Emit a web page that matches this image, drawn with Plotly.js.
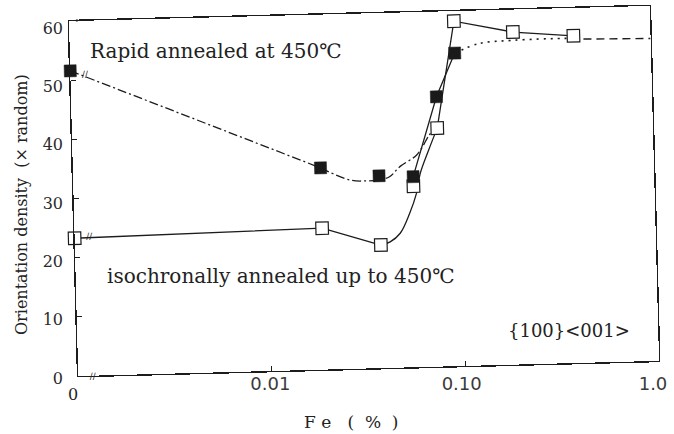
<!DOCTYPE html>
<html>
<head>
<meta charset="utf-8">
<script src="https://cdn.plot.ly/plotly-3.0.1.min.js"></script>
<style>
  html, body { margin: 0; padding: 0; background: #ffffff; }
  #wrap { position: relative; width: 674px; height: 434px; overflow: hidden; }
  #plotA { position: absolute; left: 0; top: 0; width: 674px; height: 434px;
           transform-origin: 364px 191px; transform: rotate(-1.5deg); }
  #plotB { position: absolute; left: 0; top: 0; width: 674px; height: 434px; }
</style>
</head>
<body>
<div id="wrap">
  <div id="plotA"></div>
  <div id="plotB"></div>
</div>
<script>
// ---------------- data ----------------
// isochronally annealed up to 450 C (open squares)
const feIso = [0, 0.019, 0.038, 0.057, 0.077, 0.097, 0.195, 0.40];
const densIso = [23.3, 23.9, 20.8, 30.6, 40.3, 58.3, 56.2, 55.3];
// rapid annealed at 450 C (filled squares)
const feRapid = [0, 0.019, 0.038, 0.057, 0.077, 0.097];
const densRapid = [51.6, 34.1, 32.5, 32.2, 45.6, 52.9];
// drawn guide curves
const isoCurveFe = [0.038, 0.0425, 0.048, 0.054, 0.059, 0.062, 0.069, 0.077];
const isoCurveDens = [20.8, 21.3, 22.7, 26.0, 29.4, 32.7, 36.6, 40.3];
const rapidCurveFe = [0, 0.019, 0.027, 0.033, 0.038, 0.043, 0.049, 0.06, 0.069, 0.073];
const rapidCurveDens = [51.6, 34.1, 31.9, 31.7, 31.8, 32.3, 34.0, 35.9, 38.9, 40.0];
const rapidDottedFe = [0.097, 0.13, 0.195, 0.35, 0.42];
const rapidDottedDens = [52.9, 54.4, 54.8, 54.9, 54.8];
const rapidDashedFe = [0.45, 1.0];
const rapidDashedDens = [54.7, 54.5];
// axis labels
const xTickVals = [0.01, 0.1, 1.0];
const xTickText = ['0.01', '0.10', '1.0'];
const yTickVals = [0, 10, 20, 30, 40, 50, 60];

// The broken axis: Fe = 0 is drawn at this position of the log axis
const ZERO_POS = 0.001;
const xp = arr => arr.map(v => (v === 0 ? ZERO_POS : v));

const INK = '#1c1c1c';
const W = 674, H = 434;

// ---------------- plot A : frame + data (slightly tilted, as in the scan) ----------------
const lw = 1.3;
const tracesA = [
  { x: xp(rapidCurveFe.slice(0, 2)), y: rapidCurveDens.slice(0, 2), mode: 'lines',
    line: { color: INK, width: lw, dash: '9px,3px,2px,3px' }, hoverinfo: 'skip' },
  { x: xp(rapidCurveFe.slice(1)), y: rapidCurveDens.slice(1), mode: 'lines',
    line: { color: INK, width: lw, dash: '9px,3px,2px,3px', shape: 'spline', smoothing: 1 }, hoverinfo: 'skip' },
  { x: xp(feRapid.slice(3, 6)), y: densRapid.slice(3, 6), mode: 'lines',
    line: { color: INK, width: lw }, hoverinfo: 'skip' },
  { x: xp(rapidDottedFe), y: rapidDottedDens, mode: 'lines',
    line: { color: INK, width: 1.6, dash: '2px,5px', shape: 'spline', smoothing: 1 }, hoverinfo: 'skip' },
  { x: xp(rapidDashedFe), y: rapidDashedDens, mode: 'lines',
    line: { color: INK, width: 1.4, dash: '8px,5px' }, hoverinfo: 'skip' },
  { x: xp(feIso.slice(0, 3)), y: densIso.slice(0, 3), mode: 'lines',
    line: { color: INK, width: lw }, hoverinfo: 'skip' },
  { x: xp(isoCurveFe), y: isoCurveDens, mode: 'lines',
    line: { color: INK, width: lw, shape: 'spline', smoothing: 1 }, hoverinfo: 'skip' },
  { x: xp(feIso.slice(4)), y: densIso.slice(4), mode: 'lines',
    line: { color: INK, width: lw }, hoverinfo: 'skip' },
  { x: xp(feIso), y: densIso, mode: 'markers', cliponaxis: false,
    marker: { symbol: 'square', size: 12.5, color: '#ffffff', line: { color: INK, width: 1.2 } } },
  { x: xp(feRapid), y: densRapid, mode: 'markers', cliponaxis: false,
    marker: { symbol: 'square', size: 12, color: '#1a1a1a', line: { color: '#1a1a1a', width: 0.5 } } }
];

const breakX = Math.log10(ZERO_POS) + 0.075;
const breakMarks = [0, densIso[0] + 0.3, densRapid[0] - 0.6].map(yv => ({
  xref: 'x', yref: 'y', x: breakX, y: yv, text: '//', showarrow: false,
  font: { family: 'DejaVu Sans', size: 9, color: INK }, xanchor: 'center', yanchor: 'middle'
}));
breakMarks.push({
  xref: 'x', yref: 'y', x: Math.log10(ZERO_POS) + 0.04, y: 60, text: '•', showarrow: false,
  font: { family: 'DejaVu Sans', size: 8, color: INK }, xanchor: 'center', yanchor: 'middle'
});

const axisCommon = {
  showline: true, mirror: true, linecolor: INK, linewidth: 1.4,
  ticks: 'inside', ticklen: 5, tickwidth: 1.2, tickcolor: INK,
  showticklabels: false, showgrid: false, zeroline: false, fixedrange: true
};

const layoutA = {
  width: W, height: H,
  margin: { l: 0, r: 0, t: 0, b: 0 },
  paper_bgcolor: 'rgba(0,0,0,0)', plot_bgcolor: 'rgba(0,0,0,0)',
  showlegend: false,
  xaxis: Object.assign({}, axisCommon, {
    type: 'log', range: [Math.log10(ZERO_POS), 0],
    domain: [73.5 / W, 654.5 / W], tickvals: [0.01, 0.1]
  }),
  yaxis: Object.assign({}, axisCommon, {
    range: [0, 60], domain: [(H - 368.5) / H, (H - 13.5) / H],
    tickvals: [10, 20, 30, 40, 50]
  }),
  annotations: breakMarks
};

Plotly.newPlot('plotA', tracesA, layoutA, { staticPlot: true, displayModeBar: false });

// ---------------- plot B : texts (upright) ----------------
const px = v => v / W;
const py = v => 1 - v / H;
const serif = 'DejaVu Serif';
const note = (x, y, text, size, extra) => Object.assign({
  xref: 'paper', yref: 'paper', x: px(x), y: py(y), text: text, showarrow: false,
  xanchor: 'center', yanchor: 'middle',
  font: { family: serif, size: size, color: '#222' }
}, extra || {});

const layoutB = {
  width: W, height: H,
  margin: { l: 0, r: 0, t: 0, b: 0 },
  paper_bgcolor: 'rgba(0,0,0,0)', plot_bgcolor: 'rgba(0,0,0,0)',
  showlegend: false,
  xaxis: {
    type: 'log', range: [Math.log10(ZERO_POS), 0],
    domain: [79 / W, 653 / W], anchor: 'free', position: 1 - 371 / H,
    tickvals: xTickVals, ticktext: xTickText, ticks: '',
    showline: false, showgrid: false, zeroline: false, fixedrange: true,
    tickfont: { family: 'DejaVu Sans', size: 18, color: '#3a3a3a' }
  },
  yaxis: {
    range: [0, 60], domain: [(H - 378) / H, (H - 28) / H],
    anchor: 'free', position: 63 / W,
    tickvals: yTickVals, ticks: '',
    showline: false, showgrid: false, zeroline: false, fixedrange: true,
    tickfont: { family: serif, size: 16, color: '#2a2a2a' }
  },
  annotations: [
    note(216, 51, 'Rapid annealed at 450℃', 20),
    note(281, 276, 'isochronally annealed up to 450℃', 20),
    note(569, 330, '{100}&lt;001&gt;', 18),
    note(21, 205, 'Orientation density\u00a0\u00a0(× random)', 16, { textangle: -90 }),
    note(351, 422, 'F e\u00a0\u00a0\u00a0(\u00a0\u00a0%\u00a0\u00a0)', 17),
    note(73, 394, '0', 16)
  ]
};

const ghost = [{ x: xp(feIso), y: densIso, mode: 'markers', marker: { opacity: 0 }, hoverinfo: 'skip' }];
Plotly.newPlot('plotB', ghost, layoutB, { staticPlot: true, displayModeBar: false });
</script>
</body>
</html>
